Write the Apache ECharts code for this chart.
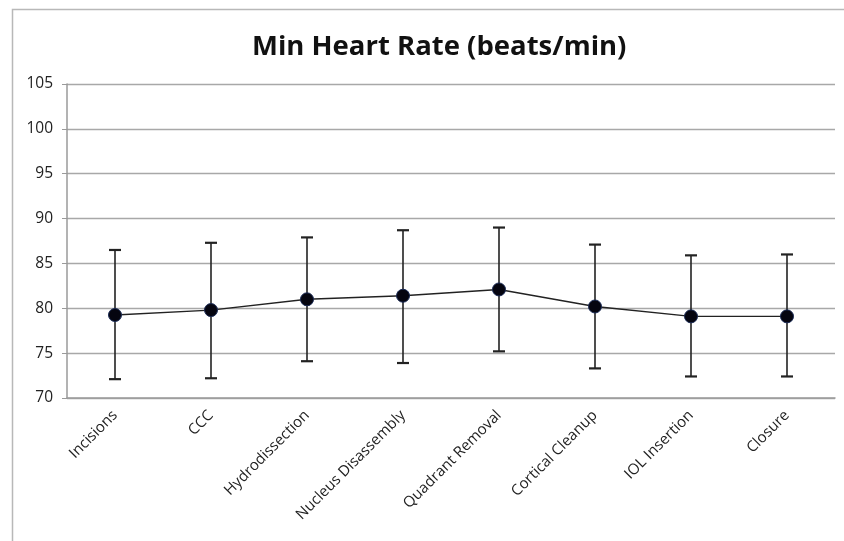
<!DOCTYPE html>
<html><head><meta charset="utf-8">
<script src="https://cdn.jsdelivr.net/npm/echarts@6/dist/echarts.min.js"></script>
<style>html,body{margin:0;padding:0;background:#fff}#c{width:844px;height:541px}</style>
</head><body><div id="c"></div>
<script>
const categories = ["Incisions","CCC","Hydrodissection","Nucleus Disassembly","Quadrant Removal","Cortical Cleanup","IOL Insertion","Closure"];
const meanValues = [79.25, 79.8, 81.0, 81.4, 82.1, 80.2, 79.1, 79.1];
const upperValues = [86.5, 87.3, 87.9, 88.7, 89.0, 87.1, 85.9, 86.0];
const lowerValues = [72.1, 72.2, 74.1, 73.9, 75.2, 73.3, 72.4, 72.4];
const titleText = "Min Heart Rate (beats/min)";

const chart = echarts.init(document.getElementById('c'));
const errData = categories.map((c,i)=>[i, lowerValues[i], upperValues[i]]);
chart.setOption({
  animation:false,
  backgroundColor:'#fff',
  graphic:[{type:'rect',shape:{x:12.5,y:9.5,width:900,height:600},style:{fill:'none',stroke:'#b8b8b8',lineWidth:1.5},silent:true,z:-1}],
  title:{text:titleText,left:247,top:28,textStyle:{fontFamily:'Open Sans',fontWeight:'bold',fontSize:27.5,color:'#111'}},
  grid:{left:67,right:9,top:84,bottom:143,containLabel:false},
  xAxis:{type:'category',data:categories,boundaryGap:true,
    axisLine:{lineStyle:{color:'#9a9a9a',width:1.5}},axisTick:{show:false},
    axisLabel:{rotate:45,interval:0,fontFamily:'Open Sans',fontSize:15,color:'#222',margin:15}},
  yAxis:{type:'value',min:70,max:105,interval:5,
    axisLine:{show:true,lineStyle:{color:'#9a9a9a',width:1.5}},
    axisTick:{show:true,length:5,lineStyle:{color:'#9a9a9a'}},
    splitLine:{lineStyle:{color:'#a8a8a8',width:1.3}},
    axisLabel:{fontFamily:'Open Sans',fontSize:15.5,color:'#222',margin:14}},
  series:[
    {type:'custom',data:errData,z:3,
      renderItem:function(params,api){
        const x=api.value(0);
        const lo=api.coord([x,api.value(1)]);
        const hi=api.coord([x,api.value(2)]);
        const w=6;
        const st={stroke:'#222',lineWidth:1.6};
        return {type:'group',children:[
          {type:'line',shape:{x1:lo[0],y1:lo[1],x2:hi[0],y2:hi[1]},style:st},
          {type:'line',shape:{x1:lo[0]-w,y1:lo[1],x2:lo[0]+w,y2:lo[1]},style:{stroke:'#222',lineWidth:2.2}},
          {type:'line',shape:{x1:hi[0]-w,y1:hi[1],x2:hi[0]+w,y2:hi[1]},style:{stroke:'#222',lineWidth:2.2}}
        ]};
      }},
    {type:'line',data:meanValues,z:4,symbol:'circle',symbolSize:13,
      lineStyle:{color:'#222',width:1.4},
      itemStyle:{color:'#050510',borderColor:'#1a2a55',borderWidth:1}}
  ]
});
</script></body></html>
